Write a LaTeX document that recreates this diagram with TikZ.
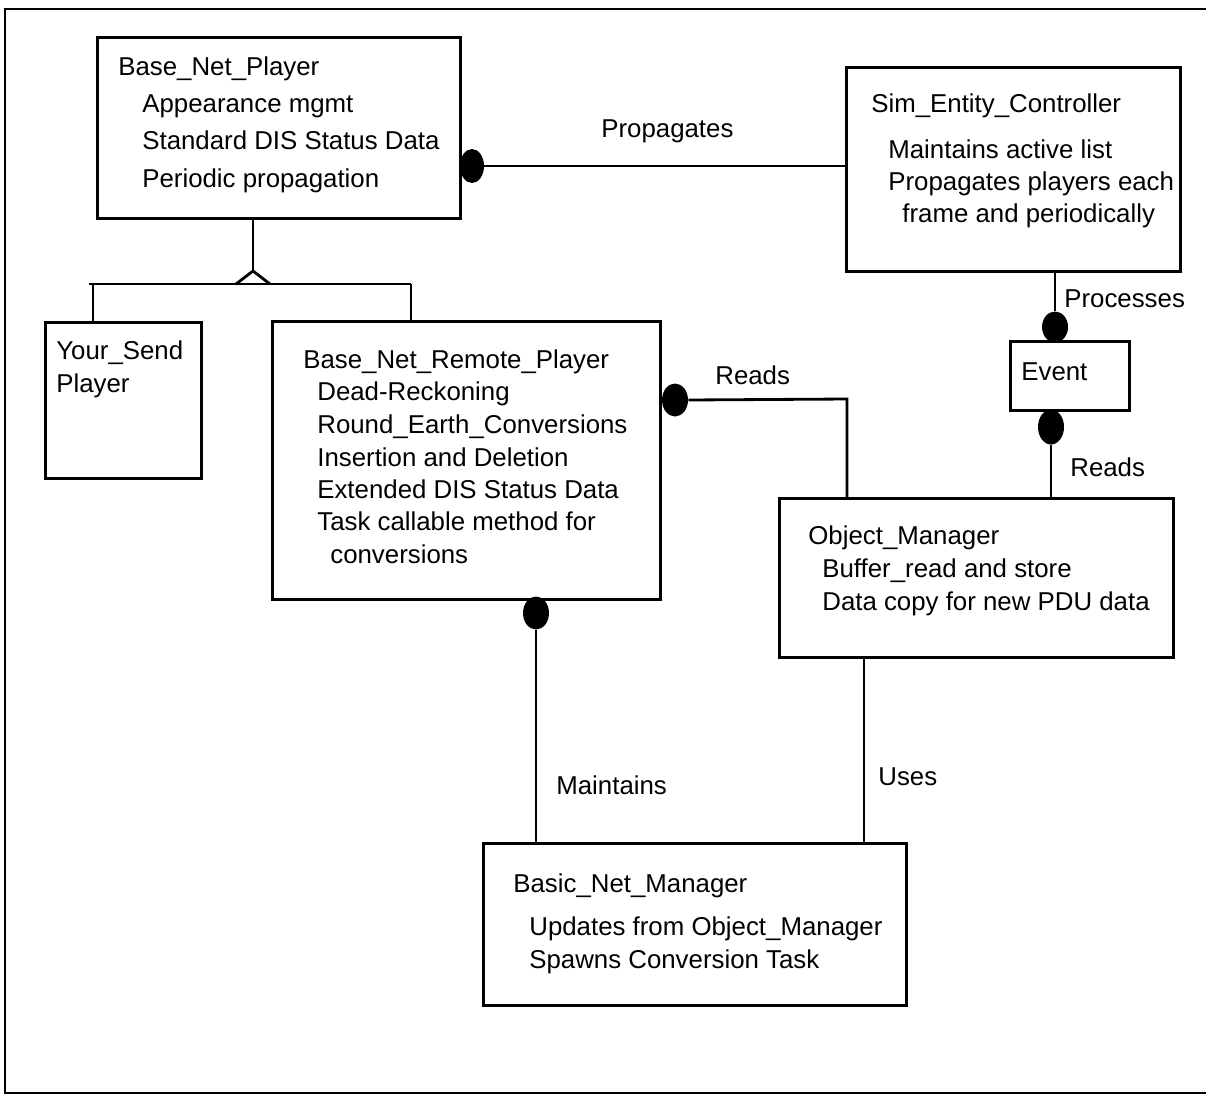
\documentclass[tikz,border=0pt]{standalone}
\usepackage{fontspec}
\setmainfont{Liberation Sans}
\usetikzlibrary{shapes.geometric}
\begin{document}
\begin{tikzpicture}[x=0.02cm,y=-0.02cm,
  box/.style={draw, line width=1.6pt, rectangle, inner sep=0pt, anchor=north west},
  txt/.style={anchor=west, inner sep=0pt, font=\fontsize{14.7}{18}\selectfont,
              text height=0.75em, text depth=0.25em, yshift=-0.1cm},
  link/.style={line width=1.6pt},
  frame/.style={line width=1.3pt},
  blob/.style={ellipse, fill=black, draw=none, inner sep=0pt,
               minimum width=0.52cm, minimum height=0.66cm}
]
\useasboundingbox (0,0) rectangle (1206,1099);

% outer frame (open on the right)
\draw[frame] (1206,9) -- (5,9) -- (5,1093) -- (1206,1093);

% class boxes
\node[box, minimum width=7.26cm, minimum height=3.62cm] (bnp)   at (96,36)   {};
\node[box, minimum width=6.68cm, minimum height=4.08cm] (sim)   at (845,66)  {};
\node[box, minimum width=3.12cm, minimum height=3.12cm] (ysend) at (44,321)  {};
\node[box, minimum width=7.76cm, minimum height=5.56cm] (bnrp)  at (271,320) {};
\node[box, minimum width=2.38cm, minimum height=1.38cm] (event) at (1009,340) {};
\node[box, minimum width=7.88cm, minimum height=3.18cm] (obj)   at (778,497) {};
\node[box, minimum width=8.46cm, minimum height=3.24cm] (bnm)   at (482,842) {};

% Base_Net_Player
\node[txt] (bnp0) at (118,66)  {Base\_Net\_Player};
\node[txt] (bnp1) at (142,103) {Appearance mgmt};
\node[txt] (bnp2) at (142,140) {Standard DIS Status Data};
\node[txt] (bnp3) at (142,178) {Periodic propagation};

% Sim_Entity_Controller
\node[txt] (sim0) at (871,103) {Sim\_Entity\_Controller};
\node[txt] (sim1) at (888,149) {Maintains active list};
\node[txt] (sim2) at (888,181) {Propagates players each};
\node[txt] (sim3) at (902,213) {frame and periodically};

% Your_Send Player
\node[txt] (ys0) at (56,350) {Your\_Send};
\node[txt] (ys1) at (56,383) {Player};

% Base_Net_Remote_Player
\node[txt] (rp0) at (303,359) {Base\_Net\_Remote\_Player};
\node[txt] (rp1) at (317,391) {Dead-Reckoning};
\node[txt] (rp2) at (317,424) {Round\_Earth\_Conversions};
\node[txt] (rp3) at (317,457) {Insertion and Deletion};
\node[txt] (rp4) at (317,489) {Extended DIS Status Data};
\node[txt] (rp5) at (317,521) {Task callable method for};
\node[txt] (rp6) at (330,554) {conversions};

% Event
\node[txt] (ev0) at (1021,371) {Event};

% Object_Manager
\node[txt] (om0) at (808,535) {Object\_Manager};
\node[txt] (om1) at (822,568) {Buffer\_read and store};
\node[txt] (om2) at (822,601) {Data copy for new PDU data};

% Basic_Net_Manager
\node[txt] (nm0) at (513,883) {Basic\_Net\_Manager};
\node[txt] (nm1) at (529,926) {Updates from Object\_Manager};
\node[txt] (nm2) at (529,959) {Spawns Conversion Task};

% association end dots
\node[blob, minimum width=0.48cm, minimum height=0.68cm] (dotP)  at (472,166)  {};
\node[blob, minimum height=0.62cm] (dotE1) at (1055,327) {};
\node[blob, minimum height=0.70cm] (dotE2) at (1051,427) {};
\node[blob] (dotR)  at (675,400)  {};
\node[blob] (dotM)  at (536,613)  {};

% generalisation tree
\coordinate (apex) at (253,271);
\coordinate (barL) at (93,284);
\coordinate (barR) at (411,284);
\draw[link] (apex |- bnp.south) -- (apex);
\draw[link, line join=miter] (236,284) -- (apex) -- (270,284);
\draw[link] (89,284) -- (barR);
\draw[link] (barL) -- (barL |- ysend.north);
\draw[link] (barR) -- (barR |- bnrp.north);

% associations
\draw[link] (dotP.east) -- (dotP.east -| sim.west);
\draw[link] (dotE1.north) -- (dotE1.north |- sim.south);
\draw[link] (dotE2.south) -- (dotE2.south |- obj.north);
\coordinate (rturn) at (847,399);
\draw[link] (dotR.east) -- (rturn) -- (rturn |- obj.north);
\draw[link] (dotM.south) -- (dotM.south |- bnm.north);
\coordinate (uses) at (864,700);
\draw[link] (uses |- obj.south) -- (uses |- bnm.north);

% association labels
\node[txt] (lProp)  at (601,128)  {Propagates};
\node[txt] (lProc)  at (1064,298) {Processes};
\node[txt] (lRead1) at (715,375)  {Reads};
\node[txt] (lRead2) at (1070,467) {Reads};
\node[txt] (lMaint) at (556,785)  {Maintains};
\node[txt] (lUses)  at (878,776)  {Uses};
\end{tikzpicture}
\end{document}
